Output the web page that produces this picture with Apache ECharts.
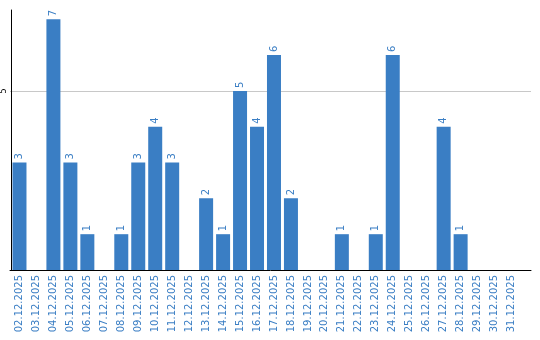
<!DOCTYPE html>
<html><head><meta charset="utf-8">
<script src="https://cdn.jsdelivr.net/npm/echarts@6/dist/echarts.min.js"></script>
<style>html,body{margin:0;padding:0;background:#fff}#c{width:540px;height:340px}</style>
</head><body><div id="c"></div>
<script>
const categories = ["02.12.2025","03.12.2025","04.12.2025","05.12.2025","06.12.2025","07.12.2025","08.12.2025","09.12.2025","10.12.2025","11.12.2025","12.12.2025","13.12.2025","14.12.2025","15.12.2025","16.12.2025","17.12.2025","18.12.2025","19.12.2025","20.12.2025","21.12.2025","22.12.2025","23.12.2025","24.12.2025","25.12.2025","26.12.2025","27.12.2025","28.12.2025","29.12.2025","30.12.2025","31.12.2025"];
const values = [3,0,7,3,1,0,1,3,4,3,0,2,1,5,4,6,2,0,0,1,0,1,6,0,0,4,1,0,0,0];
const yTicks = [5];

const BLUE = '#3a7ec4';
const FONT = 'DejaVu Sans';
const YMAX = 7.26;

const chart = echarts.init(document.getElementById('c'), null, {renderer: 'canvas'});
chart.setOption({
  animation: false,
  grid: [
    {left: 10, top: 10, width: 510, bottom: 70},
    {left: 10, top: 10, right: 9, bottom: 70}
  ],
  xAxis: [
    {
      type: 'category', gridIndex: 0, data: categories,
      axisLine: {show: false}, axisTick: {show: false},
      axisLabel: {rotate: 90, color: BLUE, fontFamily: FONT, fontSize: 10, margin: 5, interval: 0}
    },
    {
      type: 'value', gridIndex: 1, min: 0, max: 1,
      axisLine: {show: true, onZero: false, lineStyle: {color: '#000', width: 1}},
      axisTick: {show: false}, axisLabel: {show: false}, splitLine: {show: false}
    }
  ],
  yAxis: [
    {
      type: 'value', gridIndex: 0, min: 0, max: YMAX, interval: 5,
      axisLine: {show: true, lineStyle: {color: '#000', width: 1}},
      axisTick: {show: false}, splitLine: {show: false},
      axisLabel: {
        rotate: 90, color: '#000', fontFamily: FONT, fontSize: 8, margin: 3,
        formatter: v => (yTicks.indexOf(v) >= 0 ? String(v) : '')
      }
    },
    {
      type: 'value', gridIndex: 1, min: 0, max: YMAX, interval: 5,
      axisLine: {show: false}, axisTick: {show: false}, axisLabel: {show: false},
      splitLine: {show: true, showMinLine: false, showMaxLine: false, lineStyle: {color: '#c8c8c8', width: 1}}
    }
  ],
  series: [{
    type: 'bar', xAxisIndex: 0, yAxisIndex: 0,
    data: values.map(v => v === 0 ? {value: v, label: {show: false}} : v),
    barWidth: 14,
    itemStyle: {color: BLUE},
    label: {
      show: true, position: 'top', rotate: 90, align: 'left', verticalAlign: 'middle',
      distance: 3, color: BLUE, fontFamily: FONT, fontSize: 10
    }
  }]
});
</script></body></html>
